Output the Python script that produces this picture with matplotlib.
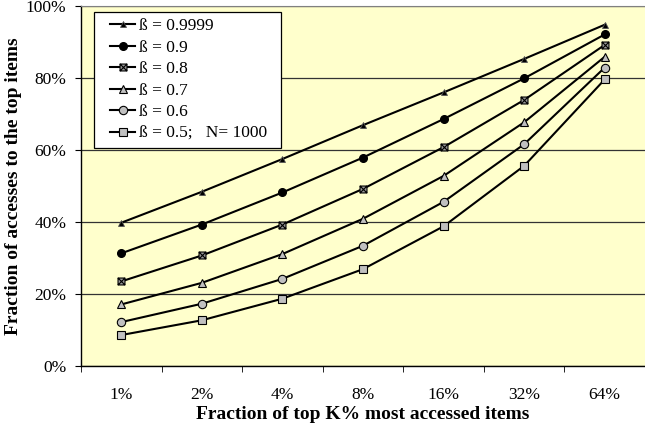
import numpy as np
import matplotlib
matplotlib.use('Agg')
import matplotlib.pyplot as plt
from matplotlib.path import Path
from matplotlib.legend_handler import HandlerLine2D

# fraction of top K% most accessed items (categories)
k_labels = ['1%', '2%', '4%', '8%', '16%', '32%', '64%']

# fraction of accesses (%) for each beta
b09999 = [39.8, 48.4, 57.5, 66.9, 76.0, 85.3, 94.8]
b09 = [31.3, 39.3, 48.2, 57.9, 68.6, 79.9, 92.1]
b08 = [23.5, 30.7, 39.3, 49.2, 60.8, 73.9, 89.2]
b07 = [17.1, 23.1, 31.1, 40.9, 52.8, 67.7, 85.9]
b06 = [12.2, 17.3, 24.2, 33.4, 45.6, 61.6, 82.9]
b05 = [8.6, 12.7, 18.7, 26.9, 38.8, 55.6, 79.6]

series_labels = ['ß = 0.9999', 'ß = 0.9', 'ß = 0.8', 'ß = 0.7', 'ß = 0.6',
                 'ß = 0.5;   N= 1000']
series = [b09999, b09, b08, b07, b06, b05]

plt.rcParams['font.family'] = ['Liberation Serif', 'DejaVu Serif']

# square with a cross inside, like the excel marker
boxx = Path([(-1, -1), (1, -1), (1, 1), (-1, 1), (-1, -1),
             (-1, -1), (1, 1), (-1, 1), (1, -1)],
            [Path.MOVETO, Path.LINETO, Path.LINETO, Path.LINETO, Path.CLOSEPOLY,
             Path.MOVETO, Path.LINETO, Path.MOVETO, Path.LINETO])

fig = plt.figure(figsize=(6.45, 4.28), dpi=100)
ax = fig.add_axes([81 / 645, 62 / 428, 564 / 645, 360 / 428])
ax.set_facecolor('#FFFFCC')

gray = '#C0C0C0'
styles = [
    dict(marker='^', markersize=5, markerfacecolor='black', markeredgecolor='#555555', markeredgewidth=0.6),
    dict(marker='o', markersize=5.5, markerfacecolor='black', markeredgecolor='black'),
    dict(marker=boxx, markersize=5, markerfacecolor='#999999', markeredgecolor='black', markeredgewidth=0.8),
    dict(marker='^', markersize=6, markerfacecolor=gray, markeredgecolor='black', markeredgewidth=0.8),
    dict(marker='o', markersize=6, markerfacecolor=gray, markeredgecolor='black', markeredgewidth=0.8),
    dict(marker='s', markersize=5.5, markerfacecolor=gray, markeredgecolor='black', markeredgewidth=0.8),
]

x = np.arange(len(k_labels))
lines = []
for vals, lab, st in zip(series, series_labels, styles):
    ln, = ax.plot(x, vals, color='black', linewidth=1.5, label=lab, zorder=3, **st)
    lines.append(ln)

# axes limits and ticks
ax.set_ylim(0, 100)
ax.set_xlim(-0.5, 6.463)
ax.set_yticks(np.arange(0, 101, 20))
ax.set_yticklabels([f'{v}%' for v in range(0, 101, 20)], fontsize=12.5)
ax.set_xticks(x)
ax.set_xticklabels(k_labels, fontsize=12.5)
ax.set_xticks(np.arange(-0.5, 7, 1), minor=True)
ax.tick_params(axis='x', which='major', length=0, pad=15)
ax.tick_params(axis='x', which='minor', length=4, direction='out', color='black')
ax.tick_params(axis='y', length=4, direction='out', pad=6.5)

ax.yaxis.grid(True, color='#333333', linewidth=0.9, zorder=1)
ax.set_axisbelow(True)
ax.spines['right'].set_visible(False)
ax.spines['top'].set_color('#808080')
ax.spines['left'].set_linewidth(1.0)
ax.spines['bottom'].set_linewidth(1.0)

ax.set_xlabel('Fraction of top K% most accessed items', fontsize=14,
              fontweight='bold', labelpad=2)
ax.set_ylabel('Fraction of accesses to the top items', fontsize=14,
              fontweight='bold')
ax.yaxis.set_label_coords(-59 / 564, 0.5)

hmap = {ln: HandlerLine2D(xpad=0.6) for ln in lines}
leg = ax.legend(loc='upper left', bbox_to_anchor=(13 / 564, 0, 187 / 564, 1 - 6 / 360),
                mode='expand', handler_map=hmap,
                fontsize=12.5, frameon=True, fancybox=False, edgecolor='black',
                framealpha=1, borderpad=0.35, labelspacing=0.31, handlelength=2.0,
                handletextpad=0.25, borderaxespad=0)
leg.get_frame().set_linewidth(0.9)
leg.set_zorder(5)

fig.savefig('out.png', dpi=100)
